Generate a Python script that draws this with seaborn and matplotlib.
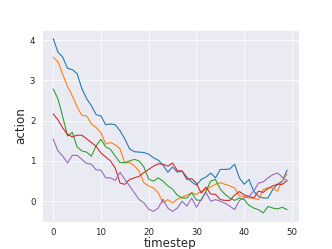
import numpy as np
import pandas as pd
import matplotlib
matplotlib.use("Agg")
import matplotlib.pyplot as plt
import seaborn as sns

timesteps = list(range(50))

blue = [4.04, 3.70, 3.58, 3.30, 3.27, 3.17, 2.80, 2.55, 2.37, 2.15,
        2.12, 1.90, 1.92, 1.90, 1.75, 1.55, 1.30, 1.23, 1.22, 1.21,
        1.17, 1.08, 1.02, 0.90, 0.72, 0.85, 0.72, 0.75, 0.60, 0.48,
        0.40, 0.54, 0.60, 0.70, 0.58, 0.79, 0.79, 0.80, 0.92, 0.58,
        0.42, 0.54, 0.25, 0.12, 0.08, 0.08, 0.29, 0.42, 0.50, 0.77]
orange = [3.58, 3.46, 3.15, 2.85, 2.62, 2.35, 2.13, 2.12, 1.92, 1.83,
          1.70, 1.42, 1.46, 1.40, 1.30, 0.95, 0.96, 0.88, 0.75, 0.46,
          0.38, 0.33, 0.21, -0.04, 0.04, -0.04, 0.05, 0.10, 0.15, 0.21,
          0.17, 0.25, 0.29, 0.36, 0.42, 0.46, 0.42, 0.38, 0.33, 0.13,
          0.12, 0.08, 0.08, 0.04, 0.29, 0.33, 0.33, 0.25, 0.52, 0.67]
green = [2.79, 2.54, 2.10, 1.62, 1.71, 1.35, 1.25, 1.22, 1.12, 1.38,
         1.54, 1.35, 1.29, 1.12, 0.96, 0.96, 1.00, 1.04, 1.00, 0.85,
         0.55, 0.50, 0.58, 0.50, 0.38, 0.30, 0.15, 0.08, 0.08, 0.21,
         0.03, 0.02, 0.25, 0.50, 0.54, 0.30, 0.17, 0.08, 0.02, 0.08,
         0.04, -0.10, -0.17, -0.21, -0.29, -0.13, -0.17, -0.19, -0.15, -0.21]
red = [2.17, 2.02, 1.82, 1.66, 1.60, 1.64, 1.64, 1.55, 1.46, 1.36,
       1.20, 1.10, 1.00, 0.82, 0.45, 0.42, 0.54, 0.58, 0.62, 0.71,
       0.79, 0.87, 0.93, 0.92, 0.87, 0.95, 0.76, 0.75, 0.54, 0.56,
       0.45, 0.20, 0.35, 0.18, 0.17, 0.04, 0.02, 0.02, 0.15, 0.24,
       0.16, 0.12, 0.08, 0.25, 0.22, 0.32, 0.38, 0.42, 0.42, 0.52]
purple = [1.54, 1.25, 1.12, 0.95, 1.14, 1.14, 1.04, 0.94, 0.92, 0.78,
          0.77, 0.58, 0.58, 0.52, 0.72, 0.54, 0.38, 0.21, 0.04, -0.04,
          -0.20, -0.25, -0.17, 0.05, -0.17, -0.25, -0.17, 0.00, -0.12, 0.08,
          -0.15, 0.04, 0.22, 0.00, 0.04, 0.00, -0.05, -0.12, -0.21, 0.02,
          0.08, 0.12, 0.25, 0.45, 0.48, 0.58, 0.66, 0.70, 0.60, 0.50]

series = {"0": blue, "1": orange, "2": green, "3": red, "4": purple}
colors = ["#1f77b4", "#ff7f0e", "#2ca02c", "#d62728", "#9467bd"]

df = pd.concat(
    [pd.DataFrame({"timestep": timesteps, "action": vals, "run": name})
     for name, vals in series.items()],
    ignore_index=True,
)

sns.set_theme(style="darkgrid")
fig, ax = plt.subplots(figsize=(6.4, 4.8), dpi=51.875)
sns.lineplot(data=df, x="timestep", y="action", hue="run",
             palette=colors, legend=False, ax=ax, linewidth=1.5)
ax.set_xlabel("timestep", fontsize=16.5, labelpad=0)
ax.set_ylabel("action", fontsize=16.5, labelpad=3)
ax.tick_params(labelsize=12, pad=2.5)
ax.set_xticks([0, 10, 20, 30, 40, 50])
ax.set_yticks([0, 1, 2, 3, 4])
fig.savefig("out.png", dpi=51.875)
